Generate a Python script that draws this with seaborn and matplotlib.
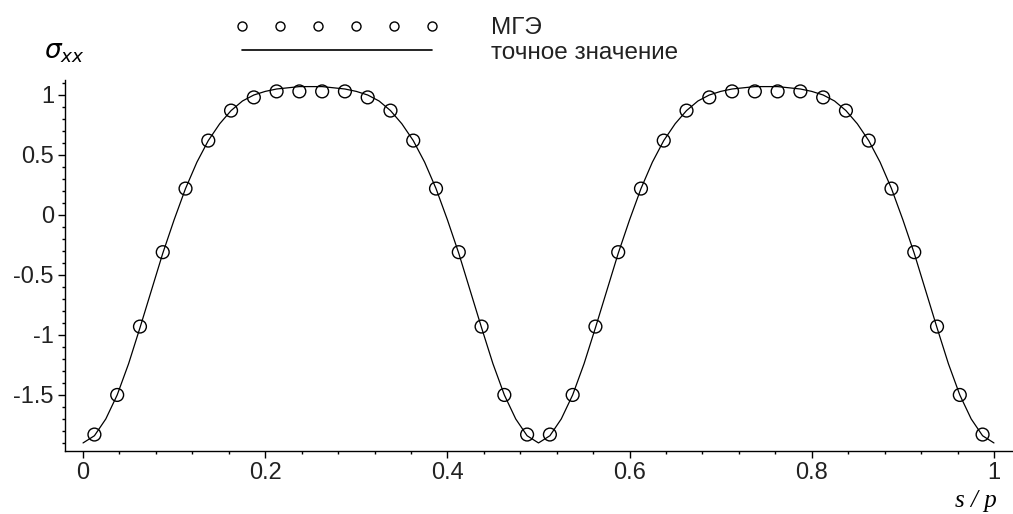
import numpy as np
import pandas as pd
import matplotlib
matplotlib.use("Agg")
import matplotlib.pyplot as plt
from matplotlib.lines import Line2D
import seaborn as sns

# ---- data ----
s_exact = np.linspace(0.0, 1.0, 81)
sigma_exact = [
    -1.90, -1.84, -1.70, -1.50, -1.24, -0.94, -0.63, -0.32, -0.04, 0.22,
    0.44, 0.62, 0.76, 0.87, 0.95, 1.00, 1.03, 1.05, 1.06, 1.07,
    1.07, 1.07, 1.06, 1.05, 1.03, 1.00, 0.95, 0.87, 0.76, 0.62,
    0.44, 0.22, -0.04, -0.32, -0.63, -0.94, -1.24, -1.50, -1.70, -1.84,
    -1.90, -1.84, -1.70, -1.50, -1.24, -0.94, -0.63, -0.32, -0.04, 0.22,
    0.44, 0.62, 0.76, 0.87, 0.95, 1.00, 1.03, 1.05, 1.06, 1.07,
    1.07, 1.07, 1.06, 1.05, 1.03, 1.00, 0.95, 0.87, 0.76, 0.62,
    0.44, 0.22, -0.04, -0.32, -0.63, -0.94, -1.24, -1.50, -1.70, -1.84,
    -1.90,
]
s_bem = np.linspace(0.0125, 0.9875, 40)
sigma_bem = [
    -1.83, -1.50, -0.93, -0.31, 0.22, 0.62, 0.87, 0.98, 1.03, 1.03,
    1.03, 1.03, 0.98, 0.87, 0.62, 0.22, -0.31, -0.93, -1.50, -1.83,
    -1.83, -1.50, -0.93, -0.31, 0.22, 0.62, 0.87, 0.98, 1.03, 1.03,
    1.03, 1.03, 0.98, 0.87, 0.62, 0.22, -0.31, -0.93, -1.50, -1.83,
]
y_ticks = [-1.5, -1, -0.5, 0, 0.5, 1]
y_ticklabels = ["-1.5", "-1", "-0.5", "0", "0.5", "1"]
x_ticks = [0, 0.2, 0.4, 0.6, 0.8, 1]
x_ticklabels = ["0", "0.2", "0.4", "0.6", "0.8", "1"]
label_bem = "МГЭ"
label_exact = "точное значение"

df_exact = pd.DataFrame({"s": s_exact, "sigma": sigma_exact})
df_bem = pd.DataFrame({"s": s_bem, "sigma": sigma_bem})

sns.set_theme(style="ticks")
plt.rcParams["font.family"] = ["Liberation Sans", "DejaVu Sans"]

fig = plt.figure(figsize=(10.13, 5.14), dpi=100)
ax = fig.add_axes([65 / 1013, 1 - 450.5 / 514, (1013 - 65) / 1013, (450.5 - 80) / 514])

sns.lineplot(data=df_exact, x="s", y="sigma", ax=ax, color="black",
             linewidth=0.9, legend=False)
sns.scatterplot(data=df_bem, x="s", y="sigma", ax=ax, marker="o", s=85,
                facecolors="none", edgecolor="black", linewidth=1.0,
                legend=False, zorder=3)

ax.set_xlim(-0.0198, 1.0209)
ax.set_ylim(-1.963, 1.125)
for sp in ["top", "right"]:
    ax.spines[sp].set_visible(False)
for sp in ["left", "bottom"]:
    ax.spines[sp].set_linewidth(1.0)
    ax.spines[sp].set_color("black")

ax.set_xticks(x_ticks)
ax.set_xticklabels(x_ticklabels)
ax.set_yticks(y_ticks)
ax.set_yticklabels(y_ticklabels)
ax.set_xticks(np.arange(0, 1.0001, 0.04), minor=True)
ax.set_yticks(np.arange(-1.9, 1.101, 0.1), minor=True)
ax.tick_params(axis="both", which="major", direction="out", length=5,
               width=1, color="black", labelsize=17, labelcolor="#222222", pad=3)
ax.tick_params(axis="both", which="minor", direction="out", length=2.2,
               width=1, color="black")
ax.set_xlabel("")
ax.set_ylabel("")

# axis labels in Maple style
fig.text(64 / 1013, 1 - 53 / 514, r"$\sigma_{xx}$", fontsize=19,
         ha="center", va="center", color="black")
fig.text(976 / 1013, 1 - 501 / 514, "s / p", fontsize=18, fontstyle="italic",
         family=["Liberation Serif", "DejaVu Serif"], ha="center", va="center",
         color="black")

handles = [
    Line2D([], [], linestyle="none", marker="o", markersize=6.5,
           markerfacecolor="none", markeredgecolor="black", markeredgewidth=1.0),
    Line2D([], [], color="black", linewidth=1.2),
]
leg = ax.legend(handles, [label_bem, label_exact], numpoints=6,
                handlelength=8.4, handletextpad=2.15, labelspacing=0.12,
                frameon=False, fontsize=17.5, loc="upper left",
                bbox_to_anchor=(218 / 1013, 1 - 0 / 514),
                bbox_transform=fig.transFigure, borderpad=0.2)
for t in leg.get_texts():
    t.set_color("#222222")

fig.savefig("out.png", dpi=100, facecolor="white")
